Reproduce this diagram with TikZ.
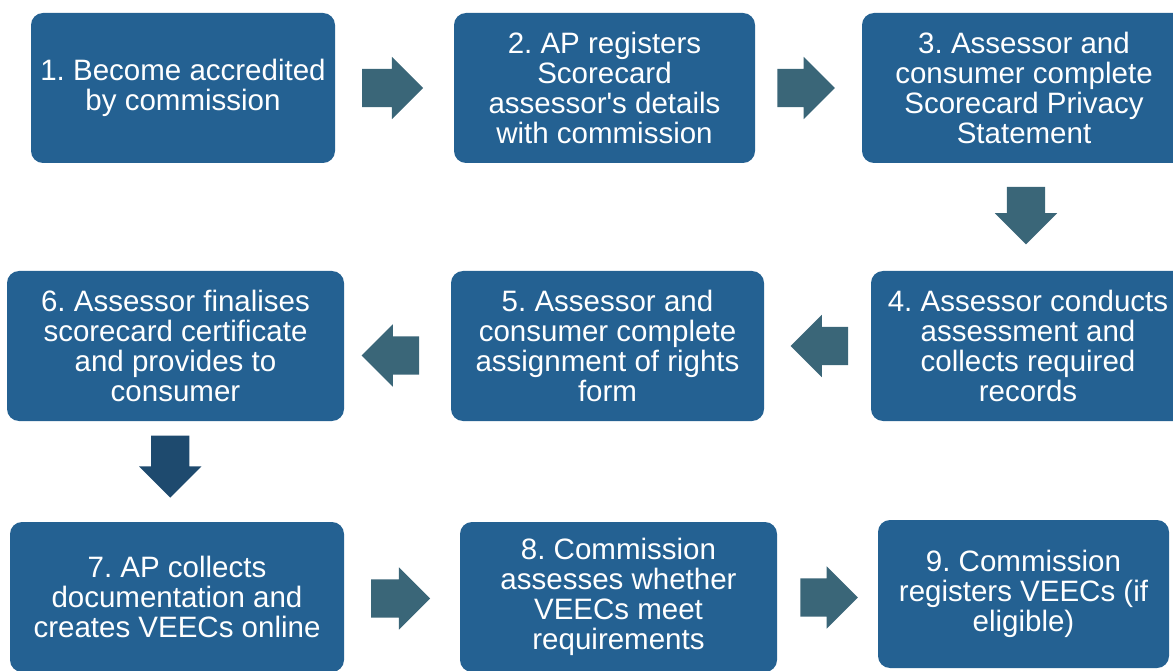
\documentclass[tikz,border=0pt]{standalone}
\usepackage{fontspec}
\setmainfont{Liberation Sans}
\frenchspacing
\usetikzlibrary{shapes.arrows,calc}
\definecolor{boxblue}{RGB}{36,97,146}
\definecolor{arrowteal}{RGB}{58,102,120}
\definecolor{arrowdark}{RGB}{30,74,110}
\begin{document}
\begin{tikzpicture}[x=1pt,y=-1pt,
  stage/.style={fill=boxblue, rounded corners=12pt, text=white, align=center,
    minimum height=150pt, inner sep=0pt, font=\fontsize{29.5}{30}\selectfont},
  blockarrow/.style={single arrow, fill=arrowteal, inner sep=19pt, minimum height=58pt,
    single arrow head extend=12pt, anchor=center}]
\useasboundingbox (0,0) rectangle (1173,671);
\node[stage, minimum width=304pt] (s1) at (183,88) {1. Become accredited\\by commission};
\node[stage, minimum width=301pt] (s2) at (604.5,88) {2. AP registers\\Scorecard\\assessor\textquotesingle s details\\with commission};
\node[stage, minimum width=324pt] (s3) at (1024,88) {3. Assessor and\\consumer complete\\Scorecard Privacy\\Statement};
\node[stage, minimum width=314pt] (s4) at (1028,346) {4. Assessor conducts\\assessment and\\collects required\\records};
\node[stage, minimum width=313pt] (s5) at (607.5,346) {5. Assessor and\\consumer complete\\assignment of rights\\form};
\node[stage, minimum width=337pt] (s6) at (175.5,346) {6. Assessor finalises\\scorecard certificate\\and provides to\\consumer};
\node[stage, minimum width=334pt] (s7) at (177,597) {7. AP collects\\documentation and\\creates VEECs online};
\node[stage, minimum width=317pt] (s8) at (618.5,597) {8. Commission\\assesses whether\\VEECs meet\\requirements};
\node[stage, minimum width=291pt, minimum height=148pt] (s9) at (1023.5,594) {9. Commission\\registers VEECs (if\\eligible)};
% arrows between the stages
\node[blockarrow, minimum height=61pt] (a12) at ($(s1.east)!0.5!(s2.west)+(-11.5,0)$) {};
\node[blockarrow, minimum height=54pt] (a23) at ($(s2.east)!0.5!(s3.west)+(-12,0)$) {};
\node[blockarrow, shape border rotate=270, minimum height=55pt] (a34) at ($(s3.south)!0.5!(s4.north)+(0,-11)$) {};
\node[blockarrow, shape border rotate=180, minimum height=55pt] (a45) at ($(s4.west)!0.5!(s5.east)+(11.5,0)$) {};
\node[blockarrow, shape border rotate=180, minimum height=55pt] (a56) at ($(s5.west)!0.5!(s6.east)+(2.5,9.5)$) {};
\node[blockarrow, fill=arrowdark, shape border rotate=270, minimum height=62pt] (a67) at ($(s6.south)!0.5!(s7.north)+(-6,-14.5)$) {};
\node[blockarrow, minimum height=59pt] (a78) at ($(s7.east)!0.5!(s8.west)+(-11,1.5)$) {};
\node[blockarrow, minimum height=52pt] (a89) at ($(s8.east)!0.5!(s9.west)+(-8,2)$) {};
\end{tikzpicture}
\end{document}
